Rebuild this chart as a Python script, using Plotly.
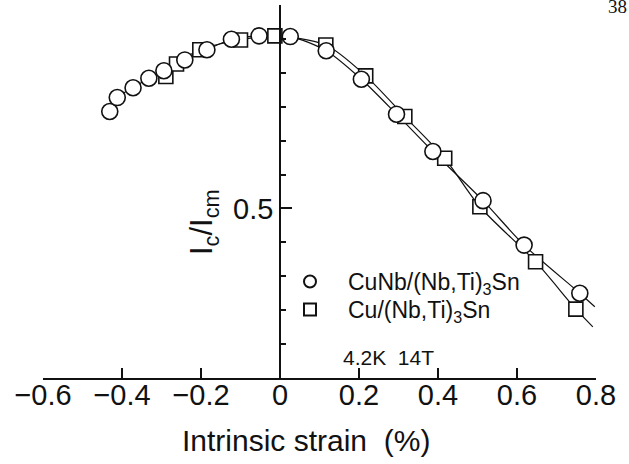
import plotly.graph_objects as go

# ---- data ----
cunb_strain = [-0.431, -0.412, -0.372, -0.332, -0.294, -0.241, -0.185, -0.123, -0.053,
               0.026, 0.117, 0.206, 0.295, 0.387, 0.514, 0.618, 0.759]
cunb_ic = [0.786, 0.827, 0.856, 0.884, 0.906, 0.938, 0.968, 0.999, 1.009,
           1.007, 0.965, 0.881, 0.778, 0.668, 0.523, 0.392, 0.250]

cu_strain = [-0.289, -0.262, -0.203, -0.100, -0.013, 0.116, 0.217, 0.316, 0.417, 0.506, 0.647, 0.749]
cu_ic = [0.889, 0.926, 0.968, 0.997, 1.009, 0.982, 0.891, 0.771, 0.648, 0.505, 0.343, 0.203]

# fitted-curve end points (the drawn curves run a little past the last points)
cunb_curve_end = [0.797, 0.210]
cu_curve_end = [0.792, 0.151]

x_tick_vals = [-0.6, -0.4, -0.2, 0, 0.2, 0.4, 0.6, 0.8]
x_tick_labels = ["\u22120.6", "\u22120.4", "\u22120.2", "0", "0.2", "0.4", "0.6", "0.8"]
y_tick_vals = [0.5]
y_tick_labels = ["0.5"]

FONT = "Liberation Sans"
INK = "#111111"

fig = go.Figure()

# curves
fig.add_trace(go.Scatter(
    x=cunb_strain + [cunb_curve_end[0]], y=cunb_ic + [cunb_curve_end[1]],
    mode="lines", line=dict(color=INK, width=1.2, shape="spline", smoothing=0.8),
    showlegend=False, hoverinfo="skip"))
fig.add_trace(go.Scatter(
    x=cu_strain + [cu_curve_end[0]], y=cu_ic + [cu_curve_end[1]],
    mode="lines", line=dict(color=INK, width=1.2, shape="spline", smoothing=0.8),
    showlegend=False, hoverinfo="skip"))

# markers
fig.add_trace(go.Scatter(
    x=cu_strain, y=cu_ic, mode="markers", name="Cu/(Nb,Ti)<sub>3</sub>Sn",
    marker=dict(symbol="square", size=14, color="white", line=dict(color=INK, width=1.6)),
    legend="legend2"))
fig.add_trace(go.Scatter(
    x=cunb_strain, y=cunb_ic, mode="markers", name="CuNb/(Nb,Ti)<sub>3</sub>Sn",
    marker=dict(symbol="circle", size=16, color="white", line=dict(color=INK, width=1.6)),
    legend="legend"))

L, R, T, B = 43, 33, 5, 86
W, H = 629, 464
pw = W - L - R
ph = H - T - B

def px_to_paper(px, py):
    return (px - L) / pw, (H - B - py) / ph

def legend_at(left_px, top_px):
    return dict(
        x=px_to_paper(left_px, 0)[0], y=px_to_paper(0, top_px)[1],
        xanchor="left", yanchor="top",
        font=dict(size=23, family=FONT, color=INK),
        bgcolor="rgba(0,0,0,0)", borderwidth=0,
        itemsizing="constant", itemwidth=66,
    )

fig.update_layout(
    width=W, height=H,
    margin=dict(l=L, r=R, t=T, b=B),
    paper_bgcolor="white", plot_bgcolor="white",
    font=dict(family=FONT, color=INK),
    showlegend=True,
    legend=legend_at(272, 260),
    legend2=legend_at(272, 288),
    xaxis=dict(
        range=[-0.6, 0.8], showgrid=False, zeroline=False,
        showline=True, linecolor=INK, linewidth=1.5,
        tickmode="array", tickvals=x_tick_vals, ticktext=x_tick_labels,
        ticks="inside", ticklen=10, tickwidth=1.5, tickcolor=INK,
        tickfont=dict(size=29, family=FONT, color=INK),
        ticklabelstandoff=-10,
    ),
    yaxis=dict(
        range=[0, 1.1], showgrid=False, zeroline=False,
        anchor="free", position=0.6 / 1.4,
        showline=True, linecolor=INK, linewidth=1.5,
        tickmode="array", tickvals=y_tick_vals, ticktext=y_tick_labels,
        ticks="inside", ticklen=11, tickwidth=1.5, tickcolor=INK,
        tickfont=dict(size=29, family=FONT, color=INK),
        minor=dict(tick0=0, dtick=0.1, ticks="inside", ticklen=5, tickwidth=1.5, tickcolor=INK),
    ),
)

ax, ay = px_to_paper(306, 441)
fig.add_annotation(text="Intrinsic strain  (%)", xref="paper", yref="paper", x=ax, y=ay,
                   xanchor="center", yanchor="middle", showarrow=False,
                   font=dict(size=30, family=FONT, color=INK))
tx, ty = px_to_paper(204, 222)
fig.add_annotation(text="I<sub>c</sub>/I<sub>cm</sub>", xref="paper", yref="paper", x=tx, y=ty,
                   xanchor="center", yanchor="middle", textangle=-90, showarrow=False,
                   font=dict(size=31, family=FONT, color=INK))
kx, ky = px_to_paper(341, 357)
fig.add_annotation(text="4.2K  14T", xref="paper", yref="paper", x=kx, y=ky,
                   xanchor="left", yanchor="middle", showarrow=False,
                   font=dict(size=21, family=FONT, color=INK))
nx, ny = px_to_paper(617, 6)
fig.add_annotation(text="38", xref="paper", yref="paper", x=nx, y=ny,
                   xanchor="center", yanchor="middle", showarrow=False,
                   font=dict(size=19, family="Liberation Serif", color=INK))

fig.write_html("out.html")
